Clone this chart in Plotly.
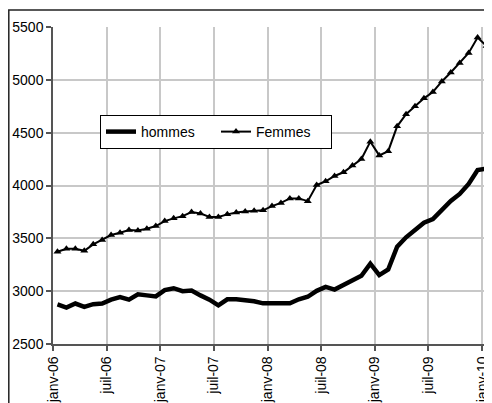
import plotly.graph_objects as go

months = [f"{m}-{y:02d}" for y in range(6, 10) for m in
          ["janv", "févr", "mars", "avr", "mai", "juin", "juil", "août", "sept", "oct", "nov", "déc"]] + ["janv-10"]

hommes = [2874, 2845, 2883, 2852, 2877, 2883, 2920, 2945, 2920, 2970, 2960, 2950,
          3010, 3028, 3000, 3006, 2960, 2920, 2866, 2923, 2923, 2915, 2905, 2885,
          2885, 2894, 2885, 2923, 2947, 3003, 3040, 3015, 3062, 3110, 3145, 3260,
          3152, 3205, 3420, 3510, 3585, 3648, 3683, 3775, 3853, 3920, 4015, 4147,
          4160]

femmes = [3373, 3402, 3402, 3382, 3443, 3484, 3531, 3553, 3578, 3575, 3590, 3616,
          3663, 3689, 3710, 3749, 3736, 3702, 3702, 3727, 3745, 3755, 3762, 3765,
          3805, 3835, 3878, 3878, 3852, 4005, 4040, 4090, 4125, 4190, 4250, 4415,
          4285, 4325, 4560, 4675, 4750, 4825, 4885, 4985, 5070, 5160, 5255, 5400,
          5320]

tick_labels = ["janv-06", "juil-06", "janv-07", "juil-07", "janv-08",
               "juil-08", "janv-09", "juil-09", "janv-10"]
y_ticks = [2500, 3000, 3500, 4000, 4500, 5000, 5500]

x = list(range(len(months)))
tick_pos = [months.index(t) - 0.5 for t in tick_labels]

FONT = "Arial, Liberation Sans, sans-serif"

fig = go.Figure()
fig.add_trace(go.Scatter(x=x, y=hommes, name="hommes", mode="lines",
                         line=dict(color="black", width=4.5), text=months,
                         hovertemplate="%{text}: %{y}<extra>hommes</extra>"))
fig.add_trace(go.Scatter(x=x, y=femmes, name="Femmes", mode="lines+markers",
                         line=dict(color="black", width=2),
                         marker=dict(symbol="triangle-up", size=7, color="black"),
                         text=months,
                         hovertemplate="%{text}: %{y}<extra>Femmes</extra>"))

# page has an 8px body margin; the figure is offset by it
OFF = 8
W, H = 492 - OFF, 403 - OFF
L, R, T, B = 45, 1, 19, 59
pw, ph = W - L - R, H - T - B

def px_to_paper_x(px):
    return (px - OFF - L) / pw

def px_to_paper_y(py):
    return (H - B - (py - OFF)) / ph

fig.update_layout(
    width=W, height=H,
    margin=dict(l=L, r=R, t=T, b=B, pad=0),
    paper_bgcolor="white", plot_bgcolor="white",
    font=dict(family=FONT, color="black", size=13),
    showlegend=True,
    legend=dict(orientation="h", x=px_to_paper_x(100), y=px_to_paper_y(132),
                xanchor="left", yanchor="middle",
                bordercolor="black", borderwidth=1, bgcolor="white",
                font=dict(family=FONT, size=14, color="black"),
                itemwidth=30, entrywidth=70, tracegroupgap=0),
    xaxis=dict(range=[-0.5, len(months) - 0.5], tickmode="array",
               tickvals=tick_pos, ticktext=tick_labels, tickangle=-90,
               showgrid=True, gridcolor="#c8c8c8", gridwidth=1.5,
               showline=True, linecolor="#555555", linewidth=1.5,
               ticks="outside", ticklen=5, tickcolor="#555555", tickwidth=1.5,
               tickfont=dict(family=FONT, size=14, color="black"),
               zeroline=False, fixedrange=True),
    yaxis=dict(range=[2500, 5500], tickmode="array", tickvals=y_ticks,
               showgrid=True, gridcolor="#c8c8c8", gridwidth=1.5,
               showline=True, linecolor="#555555", linewidth=1.5,
               ticks="outside", ticklen=5, tickcolor="#555555", tickwidth=1.5,
               tickfont=dict(family=FONT, size=14, color="black"),
               zeroline=False, fixedrange=True),
    shapes=[dict(type="rect", xref="paper", yref="paper",
                 x0=px_to_paper_x(8.8), x1=px_to_paper_x(520),
                 y0=px_to_paper_y(430), y1=px_to_paper_y(10),
                 line=dict(color="#222222", width=1.5), layer="above")],
)

fig.write_html("out.html")
